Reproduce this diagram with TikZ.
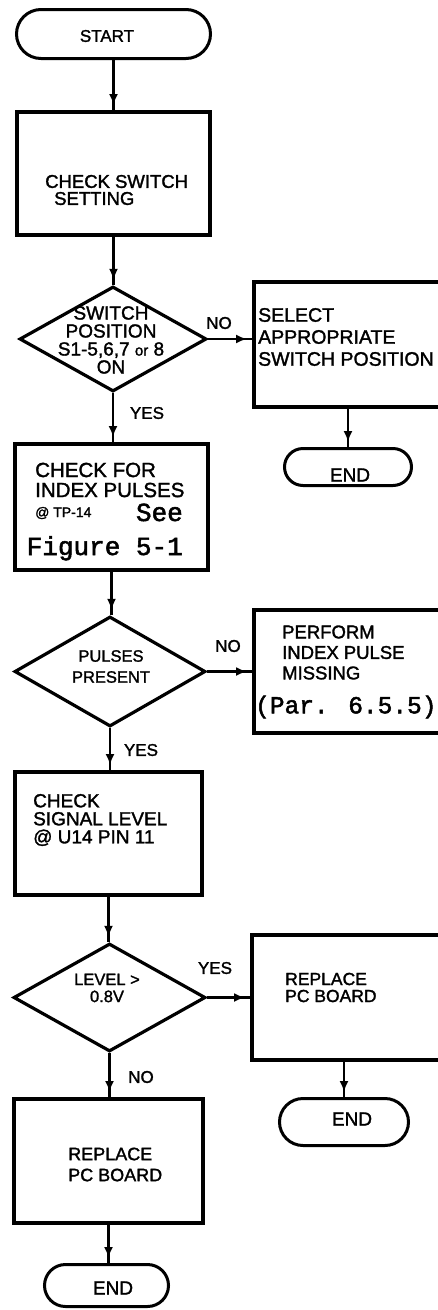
\documentclass[tikz,border=0pt]{standalone}
\usepackage{fontspec}
\setmainfont{Liberation Sans}[FakeBold=1.6]
\newfontfamily\monofont{Liberation Mono}[FakeBold=2]
\usetikzlibrary{arrows.meta,positioning,shapes.geometric,shapes.misc,decorations.markings}
\tikzset{
  term/.style={draw, rounded rectangle, line width=3pt, inner sep=0pt},
  proc/.style={draw, rectangle, line width=4pt, inner sep=0pt},
  decide/.style={draw, diamond, line width=3.2pt, inner sep=0pt},
  txt/.style={inner sep=0pt, align=left, font=\fontsize{18}{20}\selectfont},
  mono/.style={inner sep=0pt, font=\monofont\fontsize{26}{34}\selectfont},
  lbl/.style={inner sep=0pt, font=\fontsize{17}{17}\selectfont},
  arr/.style={line width=2.2pt, postaction={decorate},
    decoration={markings, mark=at position -5pt with {\arrow{Latex[length=11pt,width=9pt]}}}}}

\begin{document}
\begin{tikzpicture}[x=1pt,y=-1pt]
  \useasboundingbox (0,0) rectangle (438,1310);
  % left column
  \node[term, minimum width=194pt, minimum height=49pt] (start) at (113.5,34) {};
  \node[proc, minimum width=193pt, minimum height=123pt] (chk) at (113.5,173.5) {};
  \node[decide, minimum width=187pt, minimum height=105pt] (sw) at (113,339) {};
  \node[proc, minimum width=193pt, minimum height=126pt] (idx) at (111.5,507) {};
  \node[decide, minimum width=191pt, minimum height=110pt] (pul) at (110,671.5) {};
  \node[proc, minimum width=187pt, minimum height=123pt] (sig) at (108.5,833.5) {};
  \node[decide, minimum width=192pt, minimum height=108pt] (lev) at (109.5,997.5) {};
  \node[proc, minimum width=189pt, minimum height=124pt] (rep) at (108.5,1161) {};
  \node[term, minimum width=124pt, minimum height=42pt] (fin) at (106.5,1285.5) {};
  % right column
  \node[proc, minimum width=190pt, minimum height=125pt] (sel) at (349,344.5) {};
  \node[term, minimum width=127pt, minimum height=37pt] (endA) at (348,467) {};
  \node[proc, minimum width=190pt, minimum height=123pt] (perf) at (349,671.5) {};
  \node[proc, minimum width=192pt, minimum height=125pt] (repR) at (348,997.5) {};
  \node[term, minimum width=129pt, minimum height=47pt] (endB) at (344,1122) {};

  % texts
  \node[txt, font=\fontsize{17}{17}\selectfont] (tStart) at (107,36) {START};
  \node[txt, anchor=west, font=\fontsize{18.5}{17}\selectfont] (tChk) at (45,190) {CHECK SWITCH\\\hspace*{9pt}SETTING};
  \node[txt, align=center, font=\fontsize{19}{18}\selectfont] (tSw) at (111,340) {SWITCH\\POSITION\\S1-5,6,7 {\fontsize{15}{15}\selectfont or} 8\\ON};
  \node[txt, anchor=west, font=\fontsize{19.5}{22}\selectfont] (tSel) at (258,337) {SELECT\\APPROPRIATE\\SWITCH POSITION};
  \node[txt, font=\fontsize{19}{19}\selectfont] (tEndA) at (350,475) {END};
  \node[txt, anchor=west, font=\fontsize{20.5}{20}\selectfont] (tIdx) at (35,480) {CHECK FOR\\INDEX PULSES};
  \node[txt, anchor=west, font=\fontsize{14}{14}\selectfont] (tTp) at (35,513) {@ TP-14};
  \node[mono, anchor=east, align=right] (tFig) at (183,532) {See\\Figure 5-1};
  \node[txt, align=center, font=\fontsize{16.5}{21}\selectfont] (tPul) at (111,666.5) {PULSES\\PRESENT};
  \node[txt, anchor=west, font=\fontsize{18.5}{20.5}\selectfont] (tPerf) at (282,652.5) {PERFORM\\INDEX PULSE\\MISSING};
  \node[mono, anchor=west, font=\monofont\fontsize{24.5}{24.5}\selectfont] (tPar) at (255,707) {(Par. 6.5.5)};
  \node[txt, anchor=west, font=\fontsize{19}{18}\selectfont] (tSig) at (33,820) {CHECK\\SIGNAL LEVEL\\@ U14 PIN 11};
  \node[txt, align=center, font=\fontsize{16.5}{17}\selectfont] (tLev) at (107,988) {LEVEL >\\0.8V};
  \node[txt, anchor=west, font=\fontsize{17.5}{17}\selectfont] (tRepR) at (285,987.5) {REPLACE\\PC BOARD};
  \node[txt, font=\fontsize{19}{19}\selectfont] (tEndB) at (352,1119) {END};
  \node[txt, anchor=west, font=\fontsize{18}{21}\selectfont] (tRep) at (68,1164.5) {REPLACE\\PC BOARD};
  \node[txt, font=\fontsize{19}{19}\selectfont] (tFin) at (113,1288) {END};

  % connectors
  \draw[arr] (start.south) -- (start.south |- chk.north);
  \draw[arr] (chk.south) -- (chk.south |- sw.north);
  \draw[arr] (sw.south) -- (sw.south |- idx.north);
  \draw[arr] (sw.east) -- (sw.east -| sel.west);
  \draw[arr] (endA.north |- sel.south) -- (endA.north);
  \draw[arr] (idx.south) -- (idx.south |- pul.north);
  \draw[arr] (pul.east) -- (pul.east -| perf.west);
  \draw[arr] (pul.south) -- (pul.south |- sig.north);
  \draw[arr] (sig.south) -- (sig.south |- lev.north);
  \draw[arr] (lev.east) -- (lev.east -| repR.west);
  \draw[arr] (endB.north |- repR.south) -- (endB.north);
  \draw[arr] (lev.south) -- (lev.south |- rep.north);
  \draw[arr] (rep.south) -- (rep.south |- fin.north);

  % branch labels
  \node[lbl] (nSw) at (219,323) {NO};
  \node[lbl] (ySw) at (147,413) {YES};
  \node[lbl] (nPul) at (228,646) {NO};
  \node[lbl] (yPul) at (141,750) {YES};
  \node[lbl] (yLev) at (215,968) {YES};
  \node[lbl] (nLev) at (141,1077) {NO};
\end{tikzpicture}
\end{document}
